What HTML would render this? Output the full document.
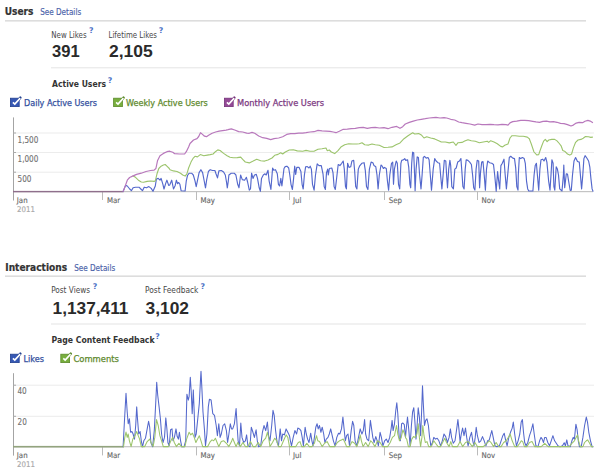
<!DOCTYPE html>
<html><head><meta charset="utf-8"><title>Insights</title>
<style>
html,body{margin:0;padding:0;background:#fff;width:600px;height:472px;overflow:hidden}
svg{display:block}
text{font-family:"DejaVu Sans Condensed","DejaVu Sans",sans-serif}
.num{font-family:"Liberation Sans",Arial,sans-serif}
.h{font-weight:bold;fill:#333;font-size:9.9px;stroke:#333;stroke-width:0.2px}
.lnk{fill:#4a5fa8;font-size:9px;stroke:#4a5fa8;stroke-width:0.15px}
.lbl{fill:#474747;font-size:8.4px}
.num{font-weight:bold;fill:#2a2a2a;font-size:17px}
.q{fill:#4d72c6;font-size:7.8px;font-weight:bold;font-family:"DejaVu Sans",sans-serif}
.sub{font-weight:bold;fill:#333;font-size:9.1px}
.ax{fill:#666;font-size:7.8px;stroke:#666;stroke-width:0.12px}
.ay{fill:#707070;font-size:8.1px;stroke:#707070;stroke-width:0.1px}
.yr{fill:#aaa;font-size:7.8px;stroke:#aaa;stroke-width:0.15px}
</style></head><body>
<svg width="600" height="472" viewBox="0 0 600 472">
<!-- USERS -->
<g id="users">
<text id="t_users" class="h" x="4.8" y="14.6" textLength="28.6" lengthAdjust="spacingAndGlyphs">Users</text>
<text id="t_sd1" class="lnk" x="40.2" y="14.5" textLength="41" lengthAdjust="spacingAndGlyphs">See Details</text>
<rect x="5" y="20" width="581" height="1.6" fill="#ddd"/>
<text id="t_nl" class="lbl" x="51.3" y="37.5" textLength="35.3" lengthAdjust="spacingAndGlyphs">New Likes</text>
<text class="q" x="88.9" y="33.1">?</text>
<text id="t_391" class="num" x="52" y="57.3" textLength="27.6" lengthAdjust="spacingAndGlyphs">391</text>
<text id="t_ll" class="lbl" x="108.5" y="37.5" textLength="48.5" lengthAdjust="spacingAndGlyphs">Lifetime Likes</text>
<text class="q" x="158.7" y="33.1">?</text>
<text id="t_2105" class="num" x="109" y="57.3" textLength="43.7" lengthAdjust="spacingAndGlyphs">2,105</text>
<rect x="51" y="67.3" width="535" height="1" fill="#e4e4e4"/>
<text id="t_au" class="sub" x="52" y="87.3" textLength="54" lengthAdjust="spacingAndGlyphs">Active Users</text>
<text class="q" x="107.7" y="82.7">?</text>
</g>

<!-- legend 1 -->
<g id="leg1">
<rect x="10.4" y="98.2" width="8.8" height="8.4" fill="#3658b4" stroke="#22408f" stroke-width="0.8"/><path d="M18.6 99.8 L20.3 97.7" stroke="#22408f" stroke-width="2.6" stroke-linecap="round" fill="none"/><path d="M12.9 102.3 L14.8 104.1 L20.2 98.1" stroke="#fff" stroke-width="1.6" fill="none"/>
<text id="t_dau" x="24" y="106.2" font-size="9" fill="#34509e" stroke="#34509e" stroke-width="0.25" textLength="73" lengthAdjust="spacingAndGlyphs">Daily Active Users</text>
<rect x="113.6" y="98.2" width="8.8" height="8.4" fill="#78ae3e" stroke="#5a8a2a" stroke-width="0.8"/><path d="M121.8 99.8 L123.5 97.7" stroke="#5a8a2a" stroke-width="2.6" stroke-linecap="round" fill="none"/><path d="M116.1 102.3 L118 104.1 L123.4 98.1" stroke="#fff" stroke-width="1.6" fill="none"/>
<text id="t_wau" x="126" y="106.2" font-size="9" fill="#5f8a2e" stroke="#5f8a2e" stroke-width="0.25" textLength="81.8" lengthAdjust="spacingAndGlyphs">Weekly Active Users</text>
<rect x="224.4" y="98.2" width="8.8" height="8.4" fill="#944a96" stroke="#75327a" stroke-width="0.8"/><path d="M232.6 99.8 L234.3 97.7" stroke="#75327a" stroke-width="2.6" stroke-linecap="round" fill="none"/><path d="M226.9 102.3 L228.8 104.1 L234.2 98.1" stroke="#fff" stroke-width="1.6" fill="none"/>
<text id="t_mau" x="237" y="106.2" font-size="9" fill="#7d3a82" stroke="#7d3a82" stroke-width="0.25" textLength="87" lengthAdjust="spacingAndGlyphs">Monthly Active Users</text>
</g>
<!-- chart 1 axes -->
<g id="ax1">
<rect x="13" y="132.5" width="581" height="1" fill="#ececec"/>
<rect x="13" y="152" width="581" height="1" fill="#ececec"/>
<rect x="13" y="171.7" width="581" height="1" fill="#ececec"/>
<rect x="13" y="191" width="580" height="1.2" fill="#c4c4c4"/>
<rect x="13" y="117.4" width="1" height="83.1" fill="#a4a4a4"/><rect x="13" y="132.5" width="3" height="1" fill="#aaa"/><rect x="13" y="152" width="3" height="1" fill="#aaa"/><rect x="13" y="171.7" width="3" height="1" fill="#aaa"/>
<rect x="102" y="191.5" width="1" height="8.5" fill="#bbb"/>
<rect x="196" y="191.5" width="1" height="8.5" fill="#bbb"/>
<rect x="289" y="191.5" width="1" height="8.5" fill="#bbb"/>
<rect x="384" y="191.5" width="1" height="8.5" fill="#bbb"/>
<rect x="477" y="191.5" width="1" height="8.5" fill="#bbb"/>
<text class="ay" x="17.5" y="142.7">1,500</text>
<text class="ay" x="17.5" y="162.4">1,000</text>
<text class="ay" x="17.5" y="182">500</text>
<text class="ax" x="16.8" y="202.7">Jan</text>
<text class="yr" x="17" y="211.7">2011</text>
<text class="ax" x="107" y="202.7">Mar</text>
<text class="ax" x="200.5" y="202.7">May</text>
<text class="ax" x="293" y="202.7">Jul</text>
<text class="ax" x="388.7" y="202.7">Sep</text>
<text class="ax" x="481.5" y="202.7">Nov</text>
</g>

<g id="c1" fill="none" stroke-linejoin="round" stroke-linecap="round">
<rect x="13" y="190.9" width="110.6" height="1.4" fill="#8f6f8c"/>
<polyline points="123.2,191.3 125.6,185.4 127.3,186 129.7,189 131.4,190.7 133.1,187.8 135.5,187.2 139,187.2 141.3,189.5 142.5,190.7 144.2,187.2 146.5,187.8 148.9,186.6 151.2,188.4 153,191.3 155.3,186 156.4,179 158.2,178.4 160,180.2 161.1,178.4 162.9,184.3 164,189 165.8,183.1 166.9,180.2 168.7,185.4 169.8,184.9 171.7,180.2 173.5,189 175.2,185.4 176.4,180.2 177.6,183.7 178.7,182.5 179.9,184.3 181.1,190.7 185.1,191 186.3,180.8 187.5,175.5 189.2,173.2 191.6,173.2 193.3,175 195,180.8 196.2,186.6 197.4,180.8 199.1,172.6 200.9,169.7 202.6,172.6 204.4,182 205.5,187.8 206.7,179.6 208.4,171.5 210.2,169.7 212.5,170.5 214.9,170.5 216,173.8 217.5,177.9 218.9,170.9 221.3,170.5 223.6,172 225.3,175 226.5,182 227.3,187.8 228.3,180.8 228.9,175 231.2,173.2 234.2,173.2 235.9,175 237.7,184.3 239,187.8 240.6,175 242.3,179.6 244.6,180.2 246.4,177.3 247.6,182 249.3,190.1 250.5,188.9 251.6,173.2 253,178.4 254.5,175 256.3,174.4 257.5,178.4 259.2,187.8 260.4,191.3 261.5,178.4 263.3,175 265,173.8 266.2,175 268,170.3 269.1,180.8 270.9,189.5 272.6,168 273.8,170.3 275.5,169.7 277.3,173.8 278.4,184.3 279.6,186 280.8,178.4 281.9,186 284,168.5 285.2,166.6 286.9,166.2 288.7,168 289.8,175 291,184.3 292.4,189.5 293.6,178.4 294.7,166.2 295.7,174.4 296.8,167.4 299.1,167.4 300.9,171.5 302.1,184.3 303.2,189 304.4,175 305.6,166.8 307.3,166.6 309,168 310.2,166.2 311.4,169.1 312.5,184.3 314.1,190.1 315.5,175 317.2,163.9 319,165.6 321.3,165.6 323,173.8 324.2,186.6 325.4,189.5 326.5,172.6 327.7,169.1 328.3,175 329.4,168.5 331.8,168 333,172.6 334.1,186.6 335.3,189.5 337,175 338.2,164.5 339.9,165.6 341.7,163.3 343.2,161 344.3,169.1 345.5,186.6 346.4,188.9 347.6,163.3 349,167.4 350.7,166.8 351.9,161 353.7,160.4 354.6,170.3 355.7,186.6 356.9,188.9 358.3,169.1 359.5,166.2 361.8,163.3 364.1,162.7 365.3,170.3 366.5,186.6 367.9,189.5 369.4,169.1 371.1,162.1 372.9,162.7 374,165.6 375.8,166.8 377,175 378.1,188.9 379.3,175 381,165 382.2,166.2 383.4,168.5 384.5,167.4 386.3,168.5 387.4,180.8 388.6,190.1 389.8,175 391.5,163.3 392.7,162.1 393.5,184.3 394.4,169.1 396.2,161 397.3,163.3 398.5,184.3 399.7,188.9 400.9,163.3 401.7,160.4 403.5,159.8 404.7,158.6 405.8,160.4 407.6,159.8 408.7,166.8 409.9,184.3 410.7,187.8 411.7,163.3 412.6,152.2 413.7,152.8 414.6,175 415.1,190.7 416.1,169.1 417.2,156.9 418.4,157.5 419.6,175 421,188.9 422.1,175 423.3,157.5 424.5,156.3 426.2,158.1 428,157.5 429.1,159.8 430.3,175 431.5,190.1 433.2,169.1 434.7,158.6 436.1,161 437.9,162.7 439.6,163.3 440.8,177.3 441.9,188.9 443.1,175 444.3,160.4 445.8,161 446.6,175 447.5,187.8 448.7,169.1 449.9,160.4 450.7,165.6 451.8,186.6 453.4,188.9 454.8,169.1 456.2,168 457.7,162.1 459.4,161 460.9,158.6 461.7,169.1 462.9,186.6 464.1,188.9 465.2,169.1 466.2,159.8 467.9,160.4 469.7,162.1 471.4,164.5 472.6,175 473.7,187.8 474.9,190.1 476.1,169.1 477.2,160.4 478.7,161 479.6,187.8 480.5,172.6 481.7,162.1 483,161.6 484.2,175 485.4,190.1 486.5,169.1 487.7,161 489.5,162.7 491.8,163.3 493.5,164.5 494.7,175 496.2,191.3 497.6,171.5 498.5,179.6 499.7,188.9 500.9,165.6 502.3,163.3 504,159.2 505.2,175 506.4,188.9 507.9,172.6 509.3,157.5 510.7,156.3 512.8,158.1 514.5,158.6 515.7,167.9 516.8,186.6 518,190.1 518.3,175 519.3,157.5 520.7,158.6 522.4,157.5 524.2,158.6 525.3,163.3 526.5,180.8 527.7,188.9 528.8,191 532.9,191 534.1,175 535.2,165.6 536.4,163.3 537.6,177.3 538.7,190.1 539.9,169.1 541,159.8 542.8,159.2 544,161 545.7,157.5 546.9,162.1 548.6,180.8 550,190.1 551,175 551.9,159.8 553.1,163.3 553.9,186.6 554.8,190.1 556.2,166.8 557.4,169.1 558.5,175 559.7,188.9 562,191 563.4,175 563.8,165 564.7,187.7 566.3,173.8 567.5,174 568.6,181 570.2,190.5 571.3,190.1 572.5,175 574,161 575.6,157.5 577.5,161.5 579.3,162.1 580.4,174.9 581.6,188.9 582.8,174.9 583.9,158.6 585.1,155.7 586.8,158 588.6,161 589.8,166.8 590.9,178.4 592.1,188.9 593,191.2" stroke="#5468cc" stroke-width="1.15"/>
<polyline points="133.1,175.9 135.5,177.3 138.4,180.2 141.3,182 143.6,182.2 147.1,181.4 150.6,181 154.1,181.4 155.3,180.8 157,173.8 158.8,168.5 161.1,166.2 163.4,165 165.2,164.5 166.9,166.2 169.3,168.5 170,169.7 173.5,170.9 177,171.5 180.5,173.2 182.8,175 185.1,176.1 186.9,173.8 188.6,168 191,162.1 193.3,158.1 195,156.3 197.4,156.9 200.3,154.6 203.8,155.7 207.3,155.1 210.2,154.6 213.1,154 215.4,151.7 217.8,149.9 220.1,150.5 223.6,153.4 227.1,155.7 230,157.3 233.3,157.7 237.3,157.6 240.7,157.1 242.7,159.3 245.3,162 249.3,162.9 252.7,161.3 256.7,159.3 260.7,160.7 264.7,161.1 268,160 272,158 274.7,155.3 278,154.4 280.7,152.7 282.7,154 285.3,152 289.3,150 293.3,149.7 297.3,150.9 302.7,151.3 306,150.4 310,151.3 314,151.3 318,149.3 322,148.7 326,148 327.3,150.7 329.3,150 331.3,152 334.7,153.6 338,150.7 341.3,146.7 344.7,144.7 348.7,143.7 352.7,144 356.7,144 359.3,143.7 362,142.7 364.7,144.7 368.7,145.1 372,144 375.3,144.7 379.3,145.3 384,147.5 388,147.3 392,146.9 396,144.7 400,142.9 404,138.7 408,135.7 410.7,134 412.7,132.7 414.7,134 418.7,133.6 421.3,134.9 424,138 426.7,136.7 430.7,138 434.7,138.9 438.7,140.7 441.3,142 445.3,142 449.3,142.9 453.3,142 456,145.3 458,142.7 462,142.4 464.7,141.1 468,139.7 471.3,140.7 475.3,141.3 479.3,142.7 483.3,142 487.3,141.3 488.7,142.4 490.7,140.7 494,142 497.3,143.7 500.7,146.4 502.7,146.9 504.7,145.3 508,144 510,138 512,135.7 515.3,135.7 519.3,136.3 523.3,136.3 527.3,137.1 529.3,138.7 531.3,144 534,152 536.7,154.9 538.7,154.7 540.1,150.5 541.8,145.8 543.6,141.1 545.3,139.4 547.1,141.7 548.8,140 551.7,139.4 554.7,139.4 557,140.9 559.3,143.5 561.1,145.8 562.8,150.5 565.1,151.6 567.5,154 569.8,155.1 571.6,154 573.3,148.1 575.6,142.3 578,140 580.9,139.4 583.2,138.2 585.5,136.5 588.5,136.7 590.8,137.4 592.5,137.1" stroke="#9cc46c" stroke-width="1.1"/>
<polyline points="123.2,191.4 125,186.6 127.3,180.2 129.6,177.5 133.1,175.9 136.6,174.4 141.3,173.2 146,171.5 150.6,170.5 154.1,170.1 155.9,168.5 157.6,160.4 160,155.7 163.4,153.4 166.9,151.7 169.8,151.2 172.8,152.2 174.7,153.7 179.3,154 184.6,154 186.3,151.7 188.6,147 190,143.5 193.5,140 197,138.6 198.7,136.5 200.5,132.7 202.2,134.1 204.5,136.2 206.5,136.7 208.6,135.3 212.1,133.2 215.6,132 219.1,131.2 222.6,130.6 226.1,130.1 228,129.7 231.3,128.9 234.7,130 238.7,131.6 242.7,132 246.7,133.1 249.3,133.3 252,132.4 254.7,133.3 258.7,136 262.7,137.7 266.7,138.4 270.7,139.6 274,138.7 278.7,138 282.7,136.7 286.7,134.4 290.7,133.6 294.7,133.7 298.7,133.1 302.7,133.1 306,132.7 310,132 314,131.7 318,130.4 322,130.9 326,131.1 330,131.3 333.3,132 336,132.7 339.3,131.3 343.3,129.3 347.3,129.1 351.3,128.7 355.3,128.3 359.3,127.7 363.3,127.3 367.3,128.3 371.3,127.7 375.3,127.3 379.3,128 384,127.7 388,128.7 392,127.3 396.7,126.4 400,128.3 402.7,126.7 405.3,124 409.3,122.4 413.3,121.1 417.3,120 421.3,119.3 425.3,118.7 429.3,118 433.3,117.6 436,117.3 440,118 444,117.6 446.7,118 450.7,119.3 454.7,120 458.7,122 462,122.7 466,123.3 470,124 474.7,125.1 478,124 482,124.7 486,124.7 490,124.3 494,124.7 498,124.8 502,124.4 506,124.7 508,125.1 510,122.9 512.7,121.6 516.7,121.1 520.7,120.3 524.7,120.3 528.7,120.7 532.7,121.3 536,121.9 539.5,122.3 543,121.3 546.5,121.1 550,121.9 553.5,121.6 557,122.3 560.5,123.4 564,123.7 567.5,124.6 571,126 573.3,125.1 576.2,123.1 579.1,122.3 582.6,122.7 585,121.3 587.9,120.4 590.2,121.1 592.5,122.5" stroke="#b878bc" stroke-width="1.2"/>
</g>
<!-- INTERACTIONS -->
<g id="inter">
<text id="t_int" class="h" x="5.3" y="270.6" textLength="61.8" lengthAdjust="spacingAndGlyphs">Interactions</text>
<text id="t_sd2" class="lnk" x="74.2" y="270.5" textLength="41" lengthAdjust="spacingAndGlyphs">See Details</text>
<rect x="5" y="275.4" width="581" height="1.6" fill="#ddd"/>
<text id="t_pv" class="lbl" x="51.2" y="292.9" textLength="38.8" lengthAdjust="spacingAndGlyphs">Post Views</text>
<text class="q" x="92.7" y="289.1">?</text>
<text id="t_1137" class="num" x="52.6" y="314" textLength="75.9" lengthAdjust="spacingAndGlyphs">1,137,411</text>
<text id="t_pf" class="lbl" x="145" y="292.9" textLength="53.4" lengthAdjust="spacingAndGlyphs">Post Feedback</text>
<text class="q" x="200.6" y="289.1">?</text>
<text id="t_3102" class="num" x="145.6" y="314" textLength="43.4" lengthAdjust="spacingAndGlyphs">3,102</text>
<rect x="51" y="323.5" width="535" height="1" fill="#e4e4e4"/>
<text id="t_pcf" class="sub" x="51.6" y="343" textLength="103" lengthAdjust="spacingAndGlyphs">Page Content Feedback</text>
<text class="q" x="155.2" y="338.8">?</text>
</g>
<g id="leg2">
<rect x="10.4" y="354.2" width="8.8" height="8.4" fill="#3658b4" stroke="#22408f" stroke-width="0.8"/><path d="M18.6 355.8 L20.3 353.7" stroke="#22408f" stroke-width="2.6" stroke-linecap="round" fill="none"/><path d="M12.9 358.3 L14.8 360.1 L20.2 354.1" stroke="#fff" stroke-width="1.6" fill="none"/>
<text id="t_likes" x="23.6" y="362.1" font-size="9" fill="#34509e" stroke="#34509e" stroke-width="0.25" textLength="20.4" lengthAdjust="spacingAndGlyphs">Likes</text>
<rect x="60.8" y="354.2" width="8.8" height="8.4" fill="#78ae3e" stroke="#5a8a2a" stroke-width="0.8"/><path d="M69 355.8 L70.7 353.7" stroke="#5a8a2a" stroke-width="2.6" stroke-linecap="round" fill="none"/><path d="M63.3 358.3 L65.2 360.1 L70.6 354.1" stroke="#fff" stroke-width="1.6" fill="none"/>
<text id="t_com" x="73.4" y="362.1" font-size="9" fill="#5f8a2e" stroke="#5f8a2e" stroke-width="0.25" textLength="45.5" lengthAdjust="spacingAndGlyphs">Comments</text>
</g>
<g id="ax2">
<rect x="13" y="384.7" width="581" height="1" fill="#ececec"/>
<rect x="13" y="415.8" width="581" height="1" fill="#ececec"/>
<rect x="13" y="446.1" width="580" height="1.2" fill="#c4c4c4"/>
<rect x="13" y="373.2" width="1" height="82.4" fill="#a4a4a4"/><rect x="13" y="384.7" width="3" height="1" fill="#aaa"/><rect x="13" y="415.8" width="3" height="1" fill="#aaa"/>
<rect x="102" y="446.8" width="1" height="8.6" fill="#bbb"/>
<rect x="196" y="446.8" width="1" height="8.6" fill="#bbb"/>
<rect x="289" y="446.8" width="1" height="8.6" fill="#bbb"/>
<rect x="384" y="446.8" width="1" height="8.6" fill="#bbb"/>
<rect x="477" y="446.8" width="1" height="8.6" fill="#bbb"/>
<text class="ay" x="17.4" y="394.4">40</text>
<text class="ay" x="17.5" y="425">20</text>
<text class="ax" x="16.8" y="457.6">Jan</text>
<text class="yr" x="17" y="466.6">2011</text>
<text class="ax" x="107" y="457.6">Mar</text>
<text class="ax" x="200.5" y="457.6">May</text>
<text class="ax" x="293" y="457.6">Jul</text>
<text class="ax" x="388.7" y="457.6">Sep</text>
<text class="ax" x="481.5" y="457.6">Nov</text>
</g>
<g id="c2" fill="none" stroke-linejoin="round" stroke-linecap="round">
<rect x="13" y="445.9" width="110.8" height="1.6" fill="#93a47e"/>
<polyline points="123.1,446.8 124.3,423.8 126,393.3 127.2,412 128.2,423.8 129.4,418.8 130.6,432.3 131.9,431.5 133.1,434 134.5,439.1 135.7,425.5 136.7,406.9 137.5,418.8 138.7,434 140.1,431.5 141.3,440.8 142.5,446.8 143.8,440.8 145.5,438.2 147.5,427.2 148.6,421.3 149.7,427.2 150.9,442.5 152.6,446.8 154.3,430.6 155.7,403.5 156.7,382.3 157.7,395 159.1,406.9 160.4,418.8 161.6,434 163,442.5 164.5,437.4 165.8,417.9 166.9,428.9 167.9,442.5 169.2,445.8 170.6,429.8 172,428.9 173,440.8 174.4,437.4 176,428.9 177.2,436.6 178.4,439.1 179.4,432.3 180.6,440.8 181.8,446.8 184,446.8 185.7,440.8 186.9,394.2 188.3,400.1 189.1,396.7 190.3,377.2 191.3,393.3 192.2,413.7 193.3,389.9 194.2,412 195,437.4 196.2,434 197.6,420.4 199.3,403.5 200.5,379.8 201,371.3 201.8,386.6 203,412 204.4,428.9 205.5,445.8 206.9,434 208.3,406.9 209.4,399.3 211.1,400.1 212.8,413.7 214.5,415.4 216.2,425.5 217.4,435.7 218.8,423.8 220.1,437.4 221.3,434 223,425.5 224.7,423.8 226.4,430.6 227.6,442.5 228.9,434 230.3,423.8 231.5,428.9 232.7,428.9 234.4,423.8 236.1,408.6 237.1,425.5 238.1,440.8 239.5,445.8 240.8,423 242,437.4 243.7,442.5 245.4,440.8 246.6,434.9 247.9,445.8 250,446.8 251.3,427.2 252.7,431.5 254.4,437.4 256.1,429.8 257.3,440.8 258.6,446.8 260.7,445.8 262.4,432.3 264,425.5 265.7,430.6 267.4,422.1 268.6,435.7 270,440.8 271.7,425.5 273,410.3 274.2,415.4 275.6,430.6 277.1,442.5 278.5,445.8 280.2,428.9 281.5,440.8 282.7,434 284.4,434.9 286.1,428.9 287.8,432.3 289.5,435.7 290.4,440.8 291.5,445.8 293.2,437.4 294.9,430.6 296.6,434 297.8,428.1 299.5,428.9 300.9,430.6 302.2,437.4 303.4,445.8 305.1,427.2 306.3,434 307.6,439.1 309,442.5 310.7,433.2 311.9,440.8 313.1,445.8 314.4,437.4 315.8,427.2 317.1,423.8 318.2,428.9 319.5,425.5 320.9,432.3 322.2,427.2 323.7,434 324.9,442.5 326.3,439.1 328,437.4 329.3,434 330.7,428.9 332.2,435.7 333.4,440.8 335.1,445.8 336.8,437.4 338.5,433.2 339.8,434 341.5,428.9 342.9,417.1 344.1,428.9 345.3,440.8 346.6,435.7 348,434 348.4,437.4 349.5,445.8 351.2,430.6 352.6,421.3 353.8,425.5 355.1,440.8 356.8,445.8 358.5,437.4 360.2,428.9 361.9,434 363.3,430.6 364.6,419.6 365.6,434 367,439.1 368.7,440.8 370.4,420.4 371.6,428.9 372.8,437.4 374.1,442.5 375.8,436.6 377.2,440.8 378.4,445.8 380.1,432.3 381.4,437.4 382.9,445.8 384.6,440.8 386.3,439.1 388,442.5 389.7,437.4 391.1,428.9 392.1,420.4 393.1,430.6 394.5,423.8 395.8,410.3 396.8,402.7 397.8,413.7 399.2,437.4 400.4,440.8 401.6,423.8 402.9,423 404.3,424.7 405.5,437.4 406.4,427.2 407.5,417.1 408.7,428.9 410.1,445.8 411.4,425.5 412.6,412 413.8,407.7 414.8,420.4 416,439.1 417.2,423.8 418.2,407.7 419.4,417.1 420.6,435.7 421.6,412 422.5,385.7 423.3,403.5 424.5,425.5 425.7,420.4 427,418.8 428.4,425.5 429.6,437.4 430.9,445.8 432.5,442.5 433.8,437.4 435.5,439.1 437.2,438.2 438.9,440.8 440.6,445.8 442.3,440.8 444,434 445.7,436.6 447.4,442.5 449.1,437.4 450.4,428.9 451.6,437.4 453.3,443.3 455,440.8 456.7,428.9 457.9,419.6 458.9,428.9 460.1,441.6 461.3,434 462.6,428.1 464,435.7 465.5,428.1 466.7,437.4 468.1,445.8 469.8,437.4 471.5,432.3 472.8,440.8 474,445.8 475.2,437.4 476.2,427.2 477.4,435.7 479.1,442.5 480.8,440.8 482.5,436.6 484.2,440.8 485.9,445.8 487.6,440.8 489.3,439.9 490.6,434.9 491.8,430.6 493.2,437.4 494.9,445.8 496.9,446.8 499.4,445.8 501.1,440.8 502.8,435.7 504.2,433.2 505.4,439.1 507.1,445.8 508.8,437.4 510.5,432.3 512.2,428.1 513.3,422.1 514.7,434 516.4,445.8 518.1,440.8 519.8,434 521.2,422.1 522.4,419.6 523.5,432.3 524.7,442.5 526.1,445.8 527.8,442.5 529.5,435.7 531.2,430.6 532.9,423.8 534.2,434 535.9,445.8 537.9,446.8 539.6,440.8 541,437.4 542.2,439.1 543.5,442.5 544.7,437.4 546.1,437.4 547.8,442.5 549.5,445.8 551.2,440.8 552.9,435.7 554.6,440.8 556.3,443.3 557.9,445.8 560,446.8 562.5,445.8 564.2,442.8 565.4,445.8 566.8,439.9 568,445.8 570.2,446.8 571.9,440.8 573.2,437.4 574.4,439.1 575.9,424.2 577.1,429.6 578.3,440.8 579.5,446.8 581.2,446.8 582.9,437.4 584.6,425.5 586.3,417.1 587.5,422.1 588.8,432.3 590.5,440.8 592.2,446.8 593,446.8" stroke="#5468cc" stroke-width="1.05"/>
<polyline points="123.5,446.6 124.8,437.4 126,432 127.2,437.4 128.2,434 129.4,440.8 131.1,446.6 132.8,439.1 134.5,436.6 136.7,431.5 137.9,434.9 139.6,439.1 141.3,446.6 143,446.6 144.7,446.6 147.2,441.6 149.7,439.1 151.4,443.3 153.1,446.6 154.8,437.4 156.5,419.6 158.2,425.5 159.9,435.7 161.6,440.8 163.3,446.6 165.8,446.6 168.4,446.6 170.9,440.8 172.6,437.4 174.3,442.5 176.4,446.6 178.9,443.3 181.5,446.6 184.9,446.6 186.6,439.1 189.1,432.3 190.8,434.9 192.5,433.2 194.2,437.4 195.9,442.5 197.6,439.1 199.3,435.7 201,440.8 202.7,446.6 205.2,446.6 207.7,446.6 210.3,441.6 212,439.9 213.7,440.8 215.4,438.2 217.1,442.5 218.8,446.6 221.3,441.6 223.8,440.8 226.4,443.3 228.9,446.6 231.5,441.6 232.7,438.2 234.4,442.5 236.1,446.6 237.8,442.5 240.3,446.6 242.9,442.5 245.4,446.6 247.9,446.6 250.5,441.6 253,446.6 255.6,446.6 258.1,442.5 260.7,446.6 263.2,440.8 265.7,438.2 267.4,432.3 268.6,437.4 270,446.6 272.5,442.5 274.7,438.2 276.8,440.8 278.5,446.6 281,446.6 283.5,440.8 286.1,434.9 287.8,437.4 289.5,446.6 292.4,446.6 295.8,446.6 298.3,442.5 300,441.6 301.7,446.6 304.3,446.6 306.8,443.3 309.3,446.6 311.9,446.6 314.4,443.3 316.5,435.7 317.8,440.8 319.5,441.6 322.1,446.6 324.6,443.3 327.1,441.6 329.7,446.6 332.2,446.6 334.8,446.6 337.3,442.5 339.5,440.8 341.5,439.9 343.2,439.1 344.9,442.5 346.6,446.6 349.5,446.6 352.1,441.6 354.6,443.3 356.8,446.6 358.9,440.8 360.2,434.9 361.4,440.8 363.1,446.6 365.6,442.5 368.2,446.6 370.7,440.8 372.4,442.5 375,446.6 377.5,440.8 380.1,442.5 382.6,446.6 385.1,446.6 387.7,446.6 390.2,442.5 392.4,437.4 394.5,435.7 396.5,425.5 397.8,434 399.5,440.8 401.2,437.4 402.9,429.8 404.6,434 405.8,438.2 406.7,439.1 408.4,446.6 410.1,446.6 411.8,439.1 413.5,436.6 415.2,437.4 416.9,434 418.2,423.8 419.4,437.4 420.6,446.6 421.9,437.4 422.8,425.5 424,435.7 425.3,442.5 427,441.6 428.7,446.6 431.3,446.6 433.8,440.8 435.5,443.3 438.1,446.6 440.6,446.6 443.1,441.6 444.8,438.2 446.5,442.5 449.1,446.6 450.8,441.6 452.5,446.6 455,446.6 457.5,446.6 460.1,441.6 462.6,446.6 465.5,442.5 468.1,441.6 469.8,443.3 472.3,446.6 474.9,442.5 477.4,446.6 479.9,446.6 483.3,446.6 486.7,443.3 489.3,440.8 491,442.5 493.5,446.6 496.1,442.5 498.6,446.6 501.1,446.6 503.7,442.5 506.2,440.8 508.4,437.4 510.1,434 512.2,440.8 514.7,446.6 517.2,446.6 519.8,443.3 521.3,440.8 522.7,441.6 524.4,446.6 526.9,446.6 529.5,442.5 532,441.6 534.6,446.6 537.9,446.6 541.3,446.6 544.7,443.3 548.1,446.6 551.5,446.6 554.9,446.6 560,446.6 565.1,446.6 569.3,446.6 571.9,443.3 574.4,440.8 576.1,437.4 577.5,434.9 578.6,440.8 580.3,446.6 582.9,446.6 584.6,442.5 586.3,440.8 587.6,439.9 589.2,442.5 591.4,446.6 593,446.6" stroke="#9cc46c" stroke-width="1.05"/>
</g>
</svg>
</body></html>
